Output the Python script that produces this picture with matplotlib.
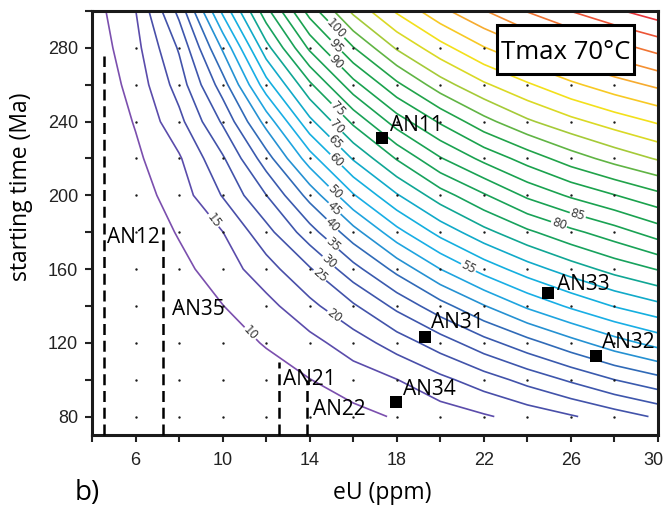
import numpy as np
import matplotlib
matplotlib.use("Agg")
import matplotlib.pyplot as plt
from matplotlib.colors import LinearSegmentedColormap
from matplotlib.patches import Rectangle

# ---------------- data (values estimated from the reference contours) ----------------
eu_grid = [4, 6, 8, 10, 12, 14, 16, 18, 20, 22, 24, 26, 28, 30]
time_grid = [80, 100, 120, 140, 160, 180, 200, 220, 240, 260, 280, 300]
z_t080 = [0.9, 1.8, 2.8, 4.0, 5.4, 6.9, 8.6, 10.4, 12.4, 14.4, 16.9, 19.5, 22.5, 25.7]
z_t100 = [1.3, 2.5, 4.0, 5.8, 7.7, 9.9, 12.4, 14.9, 18.7, 22.6, 26.7, 30.8, 35.0, 38.4]
z_t120 = [1.8, 3.4, 5.4, 7.7, 10.4, 13.4, 17.5, 22.3, 27.5, 33.1, 38.2, 43.2, 47.9, 51.8]
z_t140 = [2.3, 4.4, 6.9, 9.9, 13.4, 18.65, 24.3, 31.3, 38.1, 44.7, 50.9, 55.9, 60.3, 63.7]
z_t160 = [2.8, 5.4, 8.6, 12.4, 17.9, 24.5, 33.2, 41.5, 50.0, 57.0, 62.7, 67.5, 71.8, 75.3]
z_t180 = [3.4, 6.5, 10.4, 14.9, 23.2, 32.9, 43.0, 53.3, 61.7, 68.4, 74.0, 78.7, 82.8, 87.4]
z_t200 = [4.0, 7.7, 12.4, 20.3, 29.9, 41.8, 54.5, 64.5, 72.7, 79.4, 86.0, 90.8, 94.8, 98.75]
z_t220 = [4.7, 9.0, 14.4, 24.3, 37.7, 52.7, 65.5, 75.4, 84.6, 91.4, 97.2, 102.6, 106.9, 110.5]
z_t240 = [5.4, 10.37, 18.5, 30.7, 46.9, 63.7, 76.1, 87.5, 95.7, 103.3, 109.2, 113.6, 117.3, 120.6]
z_t260 = [6.1, 11.87, 22.2, 37.6, 57.9, 74.0, 88.2, 98.9, 107.8, 114.2, 119.3, 124.0, 127.8, 131.0]
z_t280 = [6.9, 13.37, 25.6, 45.7, 68.1, 86.0, 99.7, 110.6, 118.1, 124.7, 129.8, 134.1, 138.1, 141.7]
z_t300 = [7.7, 14.87, 31.5, 56.1, 78.3, 97.2, 111.2, 120.7, 128.6, 134.7, 140.3, 145.1, 149.2, 152.8]

levels = list(range(10, 155, 5))

label_levels = [10, 15, 20, 25, 30, 35, 40, 45, 50, 55, 60, 65, 70, 75, 80, 85, 90, 95, 100]
label_eu = [11.27, 9.65, 15.09, 14.48, 14.86, 15.02, 15.02, 15.15, 15.15, 21.27, 15.2, 15.2, 15.3, 15.3, 25.41, 26.3, 15.4, 15.4, 15.47]
label_t = [125.2, 187.0, 134.2, 156.8, 164.0, 173.0, 183.9, 193.0, 202.0, 160.4, 219.0, 229.0, 238.0, 247.0, 183.0, 188.8, 274.5, 283.0, 292.8]

sample_names = ["AN11", "AN33", "AN32", "AN31", "AN34"]
sample_eu = [17.33, 24.95, 27.17, 19.28, 17.95]
sample_t = [231.0, 146.9, 112.9, 123.4, 88.1]
sample_label_eu = [17.69, 25.34, 27.45, 19.57, 18.29]
sample_label_t = [234.8, 148.6, 117.1, 128.1, 91.9]

range_names = ["AN12", "AN35", "AN21", "AN22"]
range_eu = [4.56, 7.27, 12.57, 13.87]
range_top = [275.7, 183.0, 109.8, 99.9]
range_label_eu = [4.71, 7.69, 12.78, 14.16]
range_label_t = [174.0, 135.1, 97.2, 80.9]

dot_eu = [6, 8, 10, 12, 14, 16, 18, 20, 22, 24, 26, 28]
dot_t = [80, 100, 120, 140, 160, 180, 200, 220, 240, 260, 280]

x_ticks = list(range(4, 31, 2))
x_labelled = [6, 10, 14, 18, 22, 26]
x_last = 30
y_ticks = list(range(80, 301, 20))
y_labelled = [80, 120, 160, 200, 240, 280]

# ---------------- figure ----------------
W, H = 664, 508
fig = plt.figure(figsize=(W / 100, H / 100), dpi=100)
L, R, T, B = 92, 658, 11, 435
ax = fig.add_axes([L / W, 1 - B / H, (R - L) / W, (B - T) / H])

Z = np.array([z_t080, z_t100, z_t120, z_t140, z_t160, z_t180, z_t200,
              z_t220, z_t240, z_t260, z_t280, z_t300])
X, Y = np.meshgrid(eu_grid, time_grid)

cmap = LinearSegmentedColormap.from_list("c", [
    (0.000, "#7b4fae"),
    (0.036, "#5a4cab"),
    (0.080, "#4550a8"),
    (0.180, "#3a5aae"),
    (0.215, "#2f6cb8"),
    (0.250, "#2590d2"),
    (0.290, "#1ea6e0"),
    (0.340, "#16b2e8"),
    (0.390, "#11aacc"),
    (0.430, "#10a690"),
    (0.465, "#18a25a"),
    (0.640, "#1ba24a"),
    (0.680, "#63b544"),
    (0.715, "#a8cb38"),
    (0.750, "#d8d826"),
    (0.790, "#f4e01a"),
    (0.830, "#f7c426"),
    (0.870, "#f6a232"),
    (0.930, "#f07432"),
    (1.000, "#e8343a"),
])

cs = ax.contour(X, Y, Z, levels=levels, cmap=cmap, vmin=10, vmax=150,
                linewidths=1.2, zorder=2)
manual = list(zip(label_eu, label_t))
ax.clabel(cs, levels=label_levels, manual=manual, inline=True,
          fontsize=8.5, colors="#3a3a3a", fmt="%d", inline_spacing=1)

dx, dy = np.meshgrid(dot_eu, dot_t)
ax.scatter(dx.ravel(), dy.ravel(), s=3, color="#1a1a1a", zorder=3,
           linewidths=0)

for xe, top in zip(range_eu, range_top):
    ax.plot([xe, xe], [70, top], color="black", lw=1.8,
            linestyle=(0, (4.4, 2.3)), zorder=4, clip_on=False)

ax.scatter(sample_eu, sample_t, marker="s", s=75, color="black", zorder=5,
           linewidths=0)

txt_kw = dict(fontsize=15, family="Open Sans", color="black", zorder=6,
              ha="left", va="baseline")
for nm, xe, yt in zip(sample_names, sample_label_eu, sample_label_t):
    ax.text(xe, yt, nm, **txt_kw)
for nm, xe, yt in zip(range_names, range_label_eu, range_label_t):
    ax.text(xe, yt, nm, **txt_kw)

box_x0, box_x1 = (497 - L) / (R - L), (634 - L) / (R - L)
box_y1, box_y0 = 1 - (25 - T) / (B - T), 1 - (74 - T) / (B - T)
ax.add_patch(Rectangle((box_x0, box_y0), box_x1 - box_x0, box_y1 - box_y0,
                       transform=ax.transAxes, fc="white", ec="black",
                       lw=2.2, zorder=7))
ax.text((box_x0 + box_x1) / 2, (box_y0 + box_y1) / 2, "Tmax 70°C",
        transform=ax.transAxes, ha="center", va="center_baseline",
        fontsize=18.5, family="Open Sans", zorder=8)

ax.set_xlim(4, 30)
ax.set_ylim(70, 300)
ax.set_xticks(x_ticks)
ax.set_xticklabels([str(v) if v in x_labelled else "" for v in x_ticks])
ax.set_yticks(y_ticks)
ax.set_yticklabels([str(v) if v in y_labelled else "" for v in y_ticks])
ax.tick_params(direction="out", length=5, width=1.5, labelsize=13,
               colors="#222222")
ax.tick_params(axis="x", pad=7)
ax.tick_params(axis="y", pad=5)
for lab in ax.get_xticklabels() + ax.get_yticklabels():
    lab.set_family("Liberation Sans")
# last x label sits slightly left of its tick, as in the reference
ax.annotate(str(x_last), xy=(x_last, 0), xycoords=("data", "axes fraction"),
            xytext=(-3.5, -12.0), textcoords="offset points", ha="center",
            va="top", fontsize=13, family="Liberation Sans", color="#222222",
            annotation_clip=False)
for sp in ax.spines.values():
    sp.set_linewidth(2.2)
    sp.set_color("#1a1a1a")

ax.set_xlabel("eU (ppm)", fontsize=16.5, family="Open Sans", va="center")
ax.xaxis.set_label_coords((382 - L) / (R - L), -(493 - B) / (B - T))
ax.set_ylabel("starting time (Ma)", fontsize=16.5, family="Open Sans",
              va="center")
ax.yaxis.set_label_coords(-(L - 21) / (R - L), 1 - (187 - T) / (B - T))

fig.text(75 / W, 1 - 500 / H, "b)", fontsize=20, family="Open Sans",
         ha="left", va="baseline")

fig.savefig("out.png", dpi=100)
